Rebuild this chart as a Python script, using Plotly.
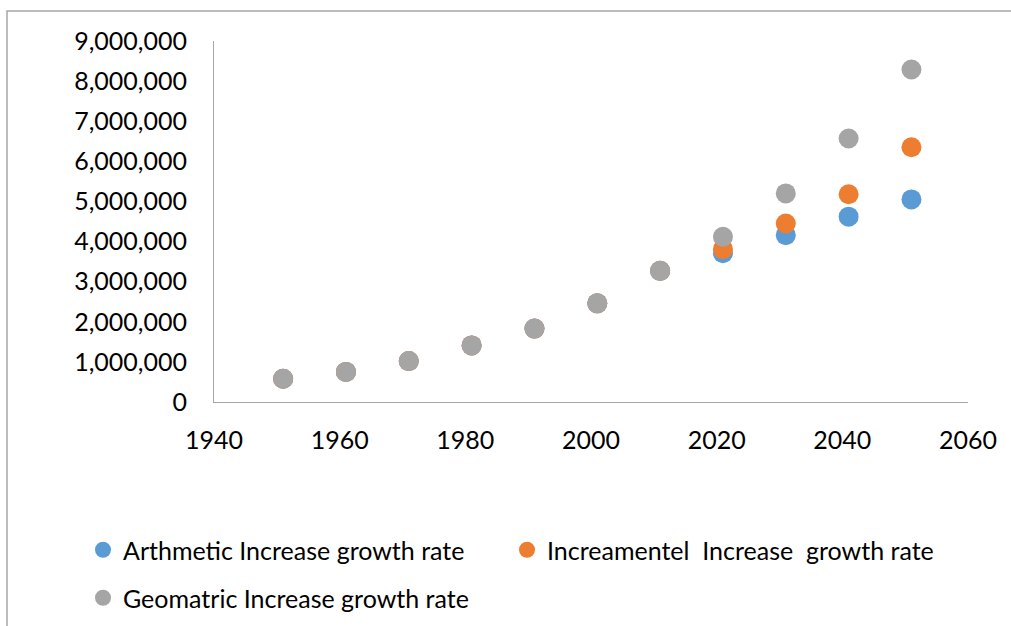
import plotly.graph_objects as go

# Census years (historical) and projection years
years = [1951, 1961, 1971, 1981, 1991, 2001, 2011, 2021, 2031, 2041, 2051]

# Population by method (historical values shared, projections diverge)
arithmetic = [580000, 750000, 1020000, 1410000, 1830000, 2460000, 3270000,
              3710000, 4160000, 4620000, 5050000]
incremental = [580000, 750000, 1020000, 1410000, 1830000, 2460000, 3270000,
               3810000, 4450000, 5180000, 6350000]
geometric = [580000, 750000, 1020000, 1410000, 1830000, 2460000, 3270000,
             4120000, 5200000, 6570000, 8290000]

series_names = [
    "Arthmetic Increase growth rate",
    "Increamentel  Increase  growth rate",
    "Geomatric Increase growth rate",
]
series_colors = ["#5B9BD5", "#ED7D31", "#A5A5A5"]

W, H = 1011, 626
FONT = "Lato, 'Open Sans', sans-serif"
FS = 25

# one legend box per entry: (left px, centre-row px)
legend_ids = ["legend", "legend2", "legend3"]
legend_pos = [(83, 550), (507, 550), (83, 598)]

fig = go.Figure()
for vals, name, color, lg in zip(
    [arithmetic, incremental, geometric], series_names, series_colors,
    legend_ids,
):
    fig.add_trace(go.Scatter(
        x=years, y=vals, mode="markers", name=name, legend=lg,
        showlegend=True,
        marker=dict(size=20, color=color, line=dict(width=0)),
    ))

axis_gray = "#A6A6A6"
fig.update_layout(
    width=W, height=H,
    showlegend=True,
    margin=dict(l=0, r=0, t=0, b=0),
    paper_bgcolor="white", plot_bgcolor="white",
    font=dict(family=FONT, size=FS, color="#000000"),
    xaxis=dict(
        domain=[214 / W, 968 / W], range=[1940, 2060], dtick=20,
        tickformat="d", showgrid=False, zeroline=False,
        showline=True, linecolor=axis_gray, linewidth=1,
        ticks="", ticklabelstandoff=16, automargin=False,
    ),
    yaxis=dict(
        domain=[1 - 402 / H, 1 - 41 / H], range=[0, 9000000], dtick=1000000,
        tickformat=",d", showgrid=False, zeroline=False,
        showline=True, linecolor=axis_gray, linewidth=1,
        ticks="", ticklabelstandoff=21, automargin=False,
    ),
    shapes=[dict(
        type="rect", xref="paper", yref="paper",
        x0=7 / W, x1=1.05, y0=-0.05, y1=1 - 11 / H,
        line=dict(color="#A6A6A6", width=1.5), fillcolor="rgba(0,0,0,0)",
        layer="below",
    )],
)

for lg, (px, py) in zip(legend_ids, legend_pos):
    fig.update_layout({lg: dict(
        orientation="h", x=px / W, xanchor="left", y=1 - py / H,
        yanchor="middle", visible=True,
        font=dict(family=FONT, size=FS), bgcolor="rgba(0,0,0,0)",
    )})

fig.write_html("out.html")
